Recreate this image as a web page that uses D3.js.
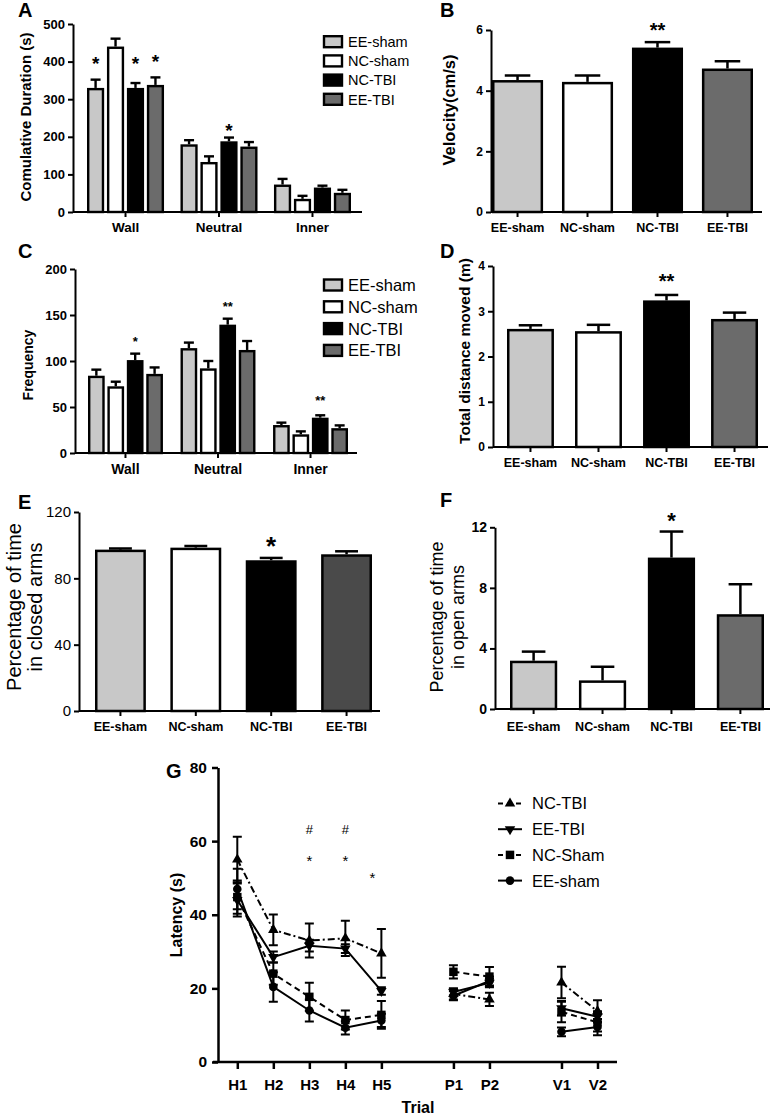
<!DOCTYPE html>
<html><head><meta charset="utf-8">
<script src="https://cdn.jsdelivr.net/npm/d3@7"></script>
<style>body{margin:0;background:#fff}svg{display:block}text{font-family:"Liberation Sans",Arial,sans-serif;fill:#000}</style>
</head><body><svg id="c" width="777" height="1116"></svg>
<script>
// ---------- data ----------
const groups = ["EE-sham","NC-sham","NC-TBI","EE-TBI"];
const zones = ["Wall","Neutral","Inner"];
const barColors = ["#c8c8c8","#ffffff","#000000","#6b6b6b"];
const barColorsE = ["#c8c8c8","#ffffff","#000000","#4a4a4a"];

const durationMean = [[330,440,330,338],[180,133,188,174],[73,35,65,51]];
const durationErr  = [[22,21,13,20],[11,15,10,12],[15,8,5,8]];
const durationTicks = [0,100,200,300,400,500];

const velocityMean = [4.35,4.29,5.42,4.73];
const velocityErr  = [0.15,0.21,0.18,0.24];
const velocityTicks = [0,2,4,6];

const freqMean = [[84,72.5,101,86],[114,92,139.5,112],[30.4,20.3,38.4,27]];
const freqErr  = [[6.6,5,7,7],[6,8,6.5,9.7],[2.6,3.2,2.6,3]];
const freqTicks = [0,50,100,150,200];

const distanceMean = [2.61,2.56,3.24,2.83];
const distanceErr  = [0.08,0.14,0.12,0.14];
const distanceTicks = [0,1,2,3,4];

const closedMean = [97.3,98.5,90.9,94.5];
const closedErr  = [0.7,1.0,1.4,1.8];
const closedTicks = [0,40,80,120];

const openMean = [3.19,1.89,10.0,6.26];
const openErr  = [0.6,0.9,1.72,1.98];
const openTicks = [0,4,8,12];

const trials   = ["H1","H2","H3","H4","H5","P1","P2","V1","V2"];
const trialPos = [1,2,3,4,5,7,8,10,11];
const latencyTicks = [0,20,40,60,80];
const latNCTBI     = [55,35.9,33,33.6,29.5,18.5,17,21.6,13.8];
const latNCTBIErr  = [6.2,4.2,4.6,4.8,6.6,1.5,1.8,4.3,3.0];
const latEETBI     = [44,28.5,31.6,30.8,19.3,19,21.5,14.6,12.3];
const latEETBIErr  = [4.5,1.5,1.6,1.2,1,1,1.2,2,1.5];
const latNCSham    = [44.8,24,17.7,11.4,12.8,24.5,23.2,13.6,10.8];
const latNCShamErr = [4.5,3,3.8,2.6,3.8,1.8,2.6,2.8,2.5];
const latEEsham    = [47,20.4,14,9.3,11.3,18,22,8.2,9.5];
const latEEshamErr = [5.5,4,3,1.8,1.8,1.2,1.2,1.2,2.2];

// significance marks: [zone/group, group, label, value-level of mark centre]
const starsA = [["Wall","EE-sham","*",407],["Wall","NC-TBI","*",407],["Wall","EE-TBI","*",413],["Neutral","NC-TBI","*",227]];
const starsC = [["Wall","NC-TBI","*",124],["Neutral","NC-TBI","**",162],["Inner","NC-TBI","**",60]];
const starsB = [["NC-TBI","**",6.16]];
const starsD = [["NC-TBI","**",3.76]];
const starsE = [["NC-TBI","*",103]];
const starsF = [["NC-TBI","*",12.8]];
const marksG = [["H3","#",63.1],["H4","#",63.1],["H3","*",55.5],["H4","*",55.5],["H5","*",50.9]];

// ---------- drawing ----------
const svg = d3.select("#c");
const FONT = '"Liberation Sans", Arial, sans-serif';
const intFmt = d3.format("~g");

function styleAxis(g, fs, fw, sw) {
  g.attr("font-family", FONT).attr("font-size", fs).attr("font-weight", fw);
  g.select(".domain").attr("stroke","#000").attr("stroke-width", sw||2);
  g.selectAll(".tick line").attr("stroke","#000").attr("stroke-width", sw||2);
  g.selectAll(".tick text").attr("fill","#000");
}
function rotLabel(lines, x, y, fs, fw, gap) {
  const t = svg.append("text").attr("transform",`translate(${x},${y}) rotate(-90)`)
    .attr("text-anchor","middle").attr("font-size",fs).attr("font-weight",fw);
  lines.forEach((l,i)=>t.append("tspan").attr("x",0).attr("dy", i?gap:0).text(l));
}
function panelLetter(t, x, y) {
  svg.append("text").attr("x",x).attr("y",y).attr("font-size",20).attr("font-weight","bold").text(t);
}
function star(g, x, yc, label, fs, fw) {
  const off = label[0]==="#" ? 0.36 : 0.57;
  g.append("text").attr("x",x).attr("y",yc+off*fs).attr("text-anchor","middle")
    .attr("font-size",fs).attr("font-weight",fw||"bold").text(label);
}
function drawErr(g, x0, bw, mean, err, y, cap, sw) {
  const cx = x0 + bw/2, top = y(mean+err);
  g.append("line").attr("x1",cx).attr("x2",cx).attr("y1",y(mean)).attr("y2",top)
    .attr("stroke","#000").attr("stroke-width",sw);
  g.append("line").attr("x1",cx-cap/2).attr("x2",cx+cap/2).attr("y1",top).attr("y2",top)
    .attr("stroke","#000").attr("stroke-width",sw);
}

function simplePanel(c) {
  const g = svg.append("g");
  const y = d3.scaleLinear().domain([0, c.ticks[c.ticks.length-1]]).range([c.y0, c.yTop]);
  const x = d3.scaleBand().domain(groups).range(c.band).paddingInner(c.pad).paddingOuter(0);
  const bw = x.bandwidth(), sw = 2.5;
  groups.forEach((k,i)=>drawErr(g, x(k), bw, c.mean[i], c.err[i], y, bw*c.capFrac, sw));
  g.selectAll("rect").data(groups).join("rect")
    .attr("x", k=>x(k)+sw/2).attr("width", bw-sw)
    .attr("y", (k,i)=>y(c.mean[i])+sw/2).attr("height", (k,i)=>c.y0-y(c.mean[i])-sw/2)
    .attr("fill",(k,i)=>c.colors[i]).attr("stroke","#000").attr("stroke-width",sw);
  c.stars.forEach(s=>star(g, x(s[0])+bw/2, y(s[2]), s[1], c.starFs));
  const xa = g.append("g").attr("transform",`translate(0,${c.y0})`)
    .call(d3.axisBottom(x).tickSize(5).tickSizeOuter(0).tickPadding(c.xPad));
  styleAxis(xa, c.xFs, "bold");
  xa.select(".domain").attr("d", `M${c.axisX},0H${c.axisEnd}`);
  const ya = g.append("g").attr("transform",`translate(${c.axisX},0)`)
    .call(d3.axisLeft(y).tickValues(c.ticks).tickFormat(intFmt).tickSize(5).tickSizeOuter(0).tickPadding(3));
  styleAxis(ya, c.yFs, c.yFw);
}

function groupedPanel(c) {
  const g = svg.append("g");
  const y = d3.scaleLinear().domain([0, c.ticks[c.ticks.length-1]]).range([c.y0, c.yTop]);
  const xo = d3.scaleBand().domain(zones).range(c.band).paddingInner(c.pad).paddingOuter(0);
  const xi = d3.scaleBand().domain(groups).range([0, xo.bandwidth()]).paddingInner(0.14).paddingOuter(0);
  const bw = xi.bandwidth(), sw = 2.4;
  zones.forEach((z,zi)=>{
    groups.forEach((k,i)=>drawErr(g, xo(z)+xi(k), bw, c.mean[zi][i], c.err[zi][i], y, 10, 2.4));
    g.append("g").selectAll("rect").data(groups).join("rect")
      .attr("x", k=>xo(z)+xi(k)+sw/2).attr("width", bw-sw)
      .attr("y", (k,i)=>y(c.mean[zi][i])+sw/2).attr("height",(k,i)=>c.y0-y(c.mean[zi][i])-sw/2)
      .attr("fill",(k,i)=>barColors[i]).attr("stroke","#000").attr("stroke-width",sw);
  });
  c.stars.forEach(s=>star(g, xo(s[0])+xi(s[1])+bw/2, y(s[3]), s[2], c.starFs));
  const xa = g.append("g").attr("transform",`translate(0,${c.y0})`)
    .call(d3.axisBottom(xo).tickSize(5).tickSizeOuter(0).tickPadding(c.xPad));
  styleAxis(xa, c.xFs, "bold");
  xa.select(".domain").attr("d", `M${c.axisX},0H${c.axisEnd}`);
  const ya = g.append("g").attr("transform",`translate(${c.axisX},0)`)
    .call(d3.axisLeft(y).tickValues(c.ticks).tickFormat(intFmt).tickSize(5).tickSizeOuter(0).tickPadding(3));
  styleAxis(ya, c.yFs, "bold");
  // legend
  const lg = g.append("g");
  groups.forEach((k,i)=>{
    const ry = c.legY[0] + i*c.legY[1];
    lg.append("rect").attr("x",324).attr("y",ry-5.5).attr("width",18).attr("height",11)
      .attr("fill",barColors[i]).attr("stroke","#000").attr("stroke-width",2.4);
    lg.append("text").attr("x",348).attr("y",ry+0.36*c.legFs).attr("font-size",c.legFs).text(k);
  });
}

// A
groupedPanel({ticks:durationTicks, y0:212, yTop:24, band:[87,351], pad:0.176, axisX:73, axisEnd:362,
  mean:durationMean, err:durationErr, stars:starsA, starFs:19, xPad:5.8, xFs:13.5, yFs:13,
  legY:[41.7,19.2], legFs:14.5});
panelLetter("A",18,17);
rotLabel(["Comulative Duration (s)"], 31, 117, 15, "bold", 0);

// C
groupedPanel({ticks:freqTicks, y0:453, yTop:269, band:[88,348], pad:0.19, axisX:75, axisEnd:357,
  mean:freqMean, err:freqErr, stars:starsC, starFs:13, xPad:5.8, xFs:14, yFs:13,
  legY:[285,21.8], legFs:16.5});
panelLetter("C",18,258);
rotLabel(["Frequency"], 32.5, 365, 14, "bold", 0);

// B
simplePanel({ticks:velocityTicks, y0:212, yTop:30, band:[492,753], pad:0.27, axisX:491, axisEnd:762,
  mean:velocityMean, err:velocityErr, colors:barColors, capFrac:0.5, stars:starsB, starFs:20,
  xPad:6.5, xFs:12.5, yFs:12, yFw:"bold"});
panelLetter("B",440,17);
rotLabel(["Velocity(cm/s)"], 455, 110, 16.5, "bold", 0);

// D
simplePanel({ticks:distanceTicks, y0:447, yTop:266, band:[507,758], pad:0.31, axisX:493, axisEnd:768,
  mean:distanceMean, err:distanceErr, colors:barColors, capFrac:0.5, stars:starsD, starFs:20,
  xPad:6.5, xFs:12.5, yFs:12, yFw:"bold"});
panelLetter("D",440,258);
rotLabel(["Total distance moved (m)"], 470, 351, 15.5, "bold", 0);

// E
simplePanel({ticks:closedTicks, y0:711, yTop:512, band:[95,372], pad:0.325, axisX:79, axisEnd:380,
  mean:closedMean, err:closedErr, colors:barColorsE, capFrac:0.45, stars:starsE, starFs:26,
  xPad:6, xFs:12.5, yFs:15, yFw:"normal"});
panelLetter("E",18,509);
rotLabel(["Percentage of time","in closed arms"], 20.5, 607, 20, "normal", 21);

// F
simplePanel({ticks:openTicks, y0:709, yTop:527.3, band:[510,764], pad:0.315, axisX:495, axisEnd:770,
  mean:openMean, err:openErr, colors:barColors, capFrac:0.5, stars:starsF, starFs:22,
  xPad:8, xFs:12.5, yFs:14, yFw:"bold"});
panelLetter("F",440,507);
rotLabel(["Percentage of time","in open arms"], 443, 617, 18, "normal", 21);

// G
(function(){
  const g = svg.append("g");
  const gx = d3.scaleLinear().domain([1,11]).range([237.3,597.5]);
  const gy = d3.scaleLinear().domain([0,80]).range([1062,767.5]);
  const segs = [[0,1,2,3,4],[5,6],[7,8]];
  const series = [
    {name:"NC-TBI",  m:latNCTBI,  e:latNCTBIErr,  sym:d3.symbolTriangle, rot:0,   size:48, dash:"7,3,2,3"},
    {name:"EE-TBI",  m:latEETBI,  e:latEETBIErr,  sym:d3.symbolTriangle, rot:180, size:48, dash:null},
    {name:"NC-Sham", m:latNCSham, e:latNCShamErr, sym:d3.symbolSquare,   rot:0,   size:72, dash:"6,4"},
    {name:"EE-sham", m:latEEsham, e:latEEshamErr, sym:d3.symbolCircle,   rot:0,   size:58, dash:null}
  ];
  series.forEach(s=>{
    const line = d3.line().x(i=>gx(trialPos[i])).y(i=>gy(s.m[i]));
    segs.forEach(seg=>g.append("path").attr("d",line(seg)).attr("fill","none")
      .attr("stroke","#000").attr("stroke-width",2).attr("stroke-dasharray",s.dash));
  });
  series.forEach(s=>{
    s.m.forEach((v,i)=>{
      const x = gx(trialPos[i]), t = gy(v+s.e[i]), b = gy(v-s.e[i]);
      g.append("path").attr("d",`M${x},${t}V${b}M${x-4.5},${t}H${x+4.5}M${x-4.5},${b}H${x+4.5}`)
        .attr("stroke","#000").attr("stroke-width",2).attr("fill","none");
    });
  });
  series.forEach(s=>{
    g.append("g").selectAll("path").data(s.m).join("path")
      .attr("d", d3.symbol(s.sym, s.size))
      .attr("transform",(v,i)=>`translate(${gx(trialPos[i])},${gy(v)}) rotate(${s.rot})`)
      .attr("fill","#000");
  });
  marksG.forEach(mk=>{
    const i = trials.indexOf(mk[0]);
    const dx = mk[0]==="H5" ? -9 : 0;
    star(g, gx(trialPos[i])+dx, gy(mk[2]), mk[1], mk[1]==="#"?13:15, "normal");
  });
  const xa = g.append("g").attr("transform","translate(0,1062)")
    .call(d3.axisBottom(gx).tickValues(trialPos).tickFormat((d,i)=>trials[i]).tickSize(7).tickSizeOuter(0).tickPadding(10));
  styleAxis(xa, 15, "bold", 2.5);
  xa.select(".domain").attr("d","M213,0H617");
  const ya = g.append("g").attr("transform","translate(218,0)")
    .call(d3.axisLeft(gy).tickValues(latencyTicks).tickFormat(intFmt).tickSize(6).tickSizeOuter(0).tickPadding(5));
  styleAxis(ya, 15.5, "bold", 2.5);
  // legend
  series.forEach((s,i)=>{
    const ry = 803.5 + i*25.7;
    g.append("line").attr("x1",498).attr("x2",522).attr("y1",ry).attr("y2",ry)
      .attr("stroke","#000").attr("stroke-width",2).attr("stroke-dasharray", s.dash ? "5,4" : null);
    g.append("path").attr("d", d3.symbol(s.sym, s.size)).attr("transform",`translate(510,${ry}) rotate(${s.rot})`).attr("fill","#000");
    g.append("text").attr("x",532).attr("y",ry+0.36*16.5).attr("font-size",16.5).text(s.name);
  });
  svg.append("text").attr("x",418).attr("y",1113).attr("text-anchor","middle")
    .attr("font-size",16).attr("font-weight","bold").text("Trial");
})();
panelLetter("G",166,778);
rotLabel(["Latency (s)"], 182, 915, 16, "bold", 0);
</script></body></html>
